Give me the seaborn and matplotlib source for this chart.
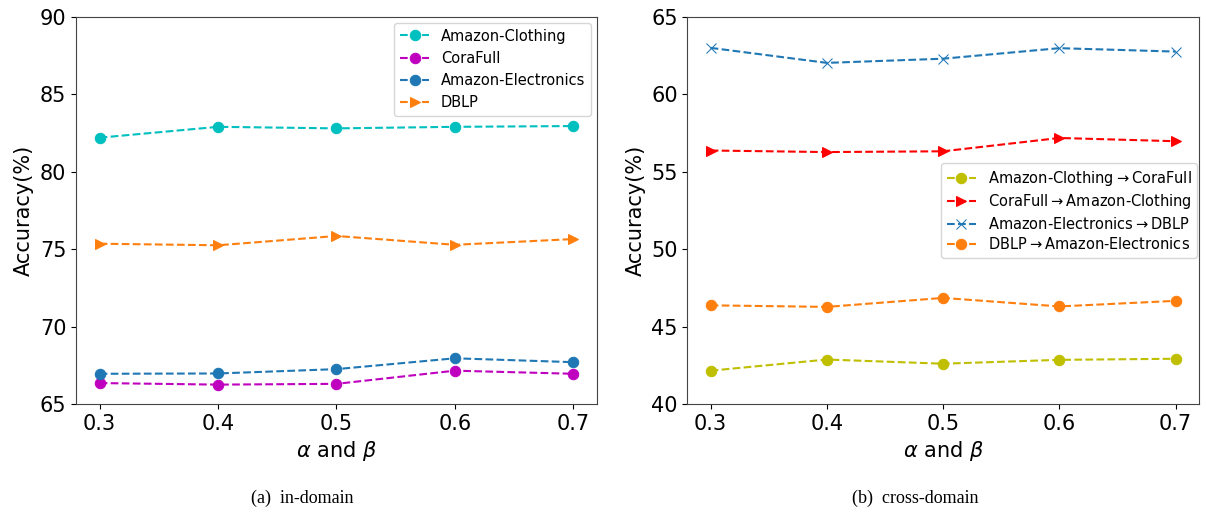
import matplotlib
matplotlib.use("Agg")
import matplotlib.pyplot as plt
import seaborn as sns
import pandas as pd

# hyperparametres alpha / beta
params = [0.3, 0.4, 0.5, 0.6, 0.7]

# (a) in-domain
in_names = ["Amazon-Clothing", "CoraFull", "Amazon-Electronics", "DBLP"]
amazon_clothing = [82.2, 82.9, 82.8, 82.9, 82.95]
corafull = [66.35, 66.25, 66.3, 67.15, 66.95]
amazon_electronics = [66.95, 66.97, 67.25, 67.95, 67.7]
dblp = [75.35, 75.25, 75.85, 75.28, 75.65]

# (b) cross-domain
cross_names = [
    r"Amazon-Clothing$\rightarrow$CoraFull",
    r"CoraFull$\rightarrow$Amazon-Clothing",
    r"Amazon-Electronics$\rightarrow$DBLP",
    r"DBLP$\rightarrow$Amazon-Electronics",
]
ac_to_cf = [42.15, 42.87, 42.6, 42.85, 42.92]
cf_to_ac = [56.37, 56.27, 56.32, 57.18, 56.97]
ae_to_dblp = [63.0, 62.03, 62.3, 62.98, 62.76]
dblp_to_ae = [46.37, 46.27, 46.85, 46.3, 46.66]

sns.set_style("ticks")
plt.rcParams["font.family"] = ["DejaVu Sans"]
plt.rcParams["mathtext.fontset"] = "dejavusans"
plt.rcParams["text.color"] = "black"
plt.rcParams["axes.labelcolor"] = "black"
plt.rcParams["xtick.color"] = "black"
plt.rcParams["ytick.color"] = "black"

fig = plt.figure(figsize=(12.06, 5.12), dpi=100)
ax1 = fig.add_axes([0.063, 0.211, 0.432, 0.756])
ax2 = fig.add_axes([0.570, 0.211, 0.424, 0.756])

styles_in = [("c", "o"), ("m", "o"), ("tab:blue", "o"), ("tab:orange", ">")]
styles_cross = [("y", "o"), ("r", ">"), ("tab:blue", "x"), ("tab:orange", "o")]

for name, vals, (col, mk) in zip(in_names, [amazon_clothing, corafull, amazon_electronics, dblp], styles_in):
    df = pd.DataFrame({"p": params, "acc": vals})
    sns.lineplot(data=df, x="p", y="acc", ax=ax1, color=col, marker=mk, linestyle="--",
                 markersize=7.5, markeredgecolor=col, linewidth=1.5, label=name)

for name, vals, (col, mk) in zip(cross_names, [ac_to_cf, cf_to_ac, ae_to_dblp, dblp_to_ae], styles_cross):
    df = pd.DataFrame({"p": params, "acc": vals})
    sns.lineplot(data=df, x="p", y="acc", ax=ax2, color=col, marker=mk, linestyle="--",
                 markersize=7.5, markeredgecolor=col, linewidth=1.5, label=name)

for ax, lo, hi in [(ax1, 65, 90), (ax2, 40, 65)]:
    ax.set_ylim(lo, hi)
    ax.set_yticks(range(lo, hi + 1, 5))
    ax.set_xticks(params)
    ax.set_xticklabels([str(p) for p in params])
    ax.set_xlabel(r"$\alpha$ and $\beta$", fontsize=15)
    ax.set_ylabel("Accuracy(%)", fontsize=15)
    ax.tick_params(labelsize=15)
    for s in ax.spines.values():
        s.set_color("#444444")

ax1.legend(loc="upper right", fontsize=10.5, handlelength=2, borderaxespad=0.4)
ax2.legend(loc="center right", bbox_to_anchor=(1.0, 0.5), fontsize=10.5, handlelength=2,
           borderaxespad=0.1, labelspacing=0.3)

fig.text(0.251, 0.018, "(a)  in-domain", ha="center", fontsize=13, family="Liberation Serif")
fig.text(0.759, 0.018, "(b)  cross-domain", ha="center", fontsize=13, family="Liberation Serif")

fig.savefig("out.png", dpi=100)
